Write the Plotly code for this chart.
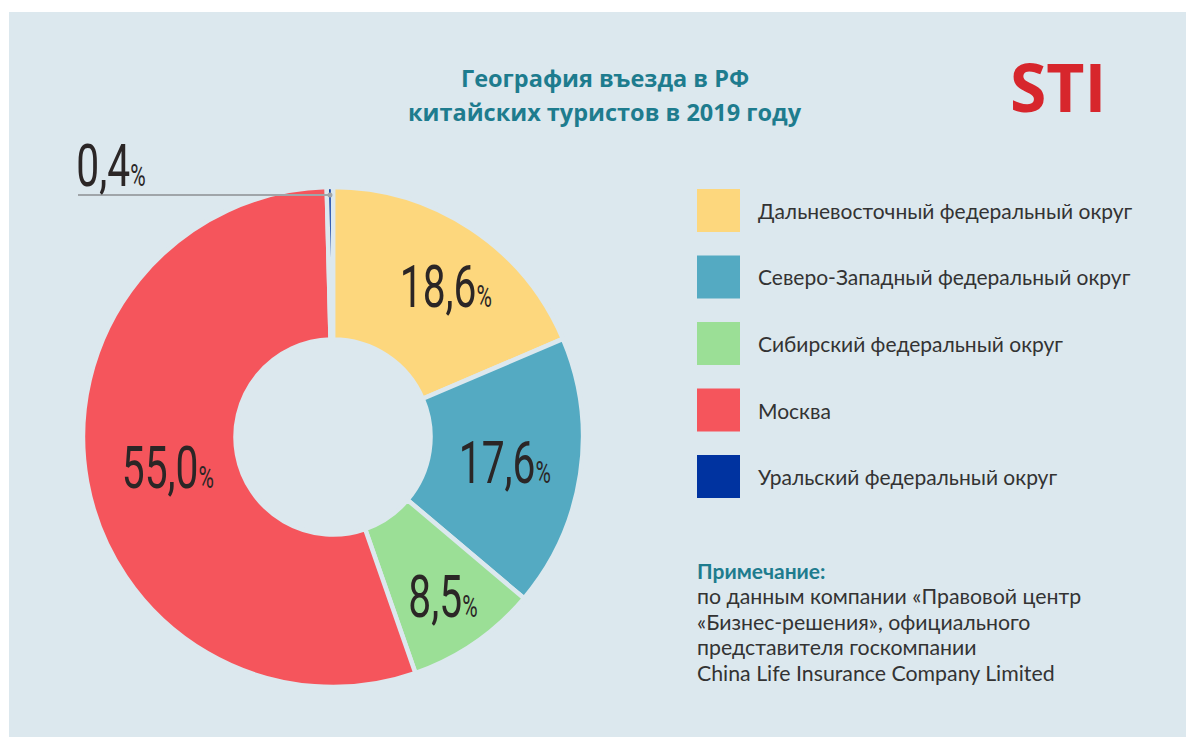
import math
import plotly.graph_objects as go

# Данные: доли въезда китайских туристов по регионам, %
regions = [
    "Дальневосточный федеральный округ",
    "Северо-Западный федеральный округ",
    "Сибирский федеральный округ",
    "Москва",
    "Уральский федеральный округ",
]
shares = [18.6, 17.6, 8.5, 55.0, 0.4]
colors = ["#fdd77d", "#54aac2", "#9bdf96", "#f5555c", "#0033a0"]

title_lines = ["География въезда в РФ", "китайских туристов в 2019 году"]
note_title = "Примечание:"
note_lines = [
    "по данным компании «Правовой центр",
    "«Бизнес-решения», официального",
    "представителя госкомпании",
    "China Life Insurance Company Limited",
]

W, H = 1186, 737
BG = "#dce8ee"
TEAL = "#1e7c8e"
TEXT = "#333333"
NUM_FONT = "Roboto, sans-serif"
TXT_FONT = "Lato, Open Sans, sans-serif"
NUM_SQUEEZE = 0.68  # горизонтальное сжатие цифр (узкое начертание)

# геометрия кольца (в пикселях)
cx, cy, R = 333, 437, 250


def px(x):
    return x / W


def py(y):
    return 1 - y / H


def fmt(v):
    return f"{v:.1f}".replace(".", ",")


fig = go.Figure()
fig.add_trace(go.Pie(
    labels=regions,
    values=shares,
    hole=0.39,
    sort=False,
    direction="clockwise",
    rotation=0,
    marker=dict(colors=colors, line=dict(color=BG, width=4.5)),
    textinfo="none",
    hoverinfo="label+percent",
    showlegend=False,
    domain=dict(x=[px(cx - R), px(cx + R)], y=[py(cy + R), py(cy - R)]),
))

annotations = []
shapes = []

# фон карточки
shapes.append(dict(type="rect", xref="paper", yref="paper", layer="below",
                   x0=px(9), x1=1.0, y0=0, y1=py(12),
                   fillcolor=BG, line=dict(width=0)))

# подписи долей (первые аннотации — цифры, их сжимает скрипт ниже)
total = sum(shares)
cum = 0.0
label_r = [188, 174, 194, 168, 0]
label_turn = [3.5, 0, 0, 0, 0]  # небольшой поворот подписи относительно середины сектора, градусы
num_font = dict(family=NUM_FONT, size=60, color="#2b2626", weight=400)
for i, v in enumerate(shares):
    mid = (cum + v / 2) / total * 2 * math.pi + math.radians(label_turn[i])
    cum += v
    text = f"{fmt(v)}<span style='font-size:31px'>%</span>"
    if v < 1:
        # маленький сектор: выноска влево
        r_end = R - 8
        ex = cx + r_end * math.sin(mid)
        shapes.append(dict(type="line", xref="paper", yref="paper",
                           x0=px(78), x1=px(ex), y0=py(195), y1=py(195),
                           line=dict(color="#a0a5a9", width=2)))
        shapes.append(dict(type="circle", xref="paper", yref="paper",
                           x0=px(ex - 2.5), x1=px(ex + 2.5), y0=py(197.5), y1=py(192.5),
                           fillcolor="#a0a5a9", line=dict(width=0)))
        annotations.append(dict(x=px(111), y=py(166), xref="paper", yref="paper",
                                text=text, showarrow=False, xanchor="center", yanchor="middle",
                                font=num_font))
        continue
    lx = cx + label_r[i] * math.sin(mid)
    ly = cy - label_r[i] * math.cos(mid)
    annotations.append(dict(x=px(lx), y=py(ly), xref="paper", yref="paper",
                            text=text, showarrow=False, xanchor="center", yanchor="middle",
                            font=num_font))
n_num = len(annotations)

# заголовок
for t, ty in zip(title_lines, [78, 112]):
    annotations.append(dict(x=px(605), y=py(ty), xref="paper", yref="paper",
                            text=f"<b>{t}</b>", showarrow=False,
                            xanchor="center", yanchor="middle",
                            font=dict(family="Open Sans, sans-serif", size=23.5, color=TEAL)))

# логотип
annotations.append(dict(x=px(1058), y=py(86), xref="paper", yref="paper",
                        text="<b>STI</b>", showarrow=False, xanchor="center", yanchor="middle",
                        font=dict(family="Open Sans, sans-serif", size=66, color="#d7262c")))

# легенда
leg_top = 189
leg_step = 66.5
sq = 43
for i, (name, col) in enumerate(zip(regions, colors)):
    y0 = leg_top + i * leg_step
    shapes.append(dict(type="rect", xref="paper", yref="paper",
                       x0=px(697), x1=px(697 + sq), y0=py(y0 + sq), y1=py(y0),
                       fillcolor=col, line=dict(width=0)))
    annotations.append(dict(x=px(756), y=py(y0 + sq / 2), xref="paper", yref="paper",
                            text=name, showarrow=False, xanchor="left", yanchor="middle",
                            font=dict(family=TXT_FONT, size=21, color=TEXT)))

# примечание
annotations.append(dict(x=px(695), y=py(570), xref="paper", yref="paper",
                        text=f"<b>{note_title}</b>", showarrow=False,
                        xanchor="left", yanchor="middle",
                        font=dict(family=TXT_FONT, size=21, color=TEAL)))
for j, line in enumerate(note_lines):
    annotations.append(dict(x=px(695), y=py(596 + j * 25.7), xref="paper", yref="paper",
                            text=line, showarrow=False, xanchor="left", yanchor="middle",
                            font=dict(family=TXT_FONT, size=21.3, color=TEXT)))

fig.update_layout(
    width=W, height=H, autosize=False,
    margin=dict(l=0, r=0, t=0, b=0),
    paper_bgcolor="white",
    plot_bgcolor="white",
    annotations=annotations,
    shapes=shapes,
)

# узкое начертание цифр: сжимаем текст подписей по горизонтали вокруг центра
squeeze_js = """
var gd = document.getElementById('{plot_id}');
gd.querySelectorAll('g.annotation').forEach(function (g) {
  var idx = +g.getAttribute('data-index');
  if (idx < N_NUM) {
    var t = g.querySelector('text');
    if (!t) return;
    var bb = t.getBBox();
    var pivot = bb.x + bb.width / 2;
    t.setAttribute('transform',
      'translate(' + pivot + ',0) scale(SQ,1) translate(' + (-pivot) + ',0)');
  }
});
""".replace("N_NUM", str(n_num)).replace("SQ", str(NUM_SQUEEZE))

fig.write_html("out.html", post_script=squeeze_js)
